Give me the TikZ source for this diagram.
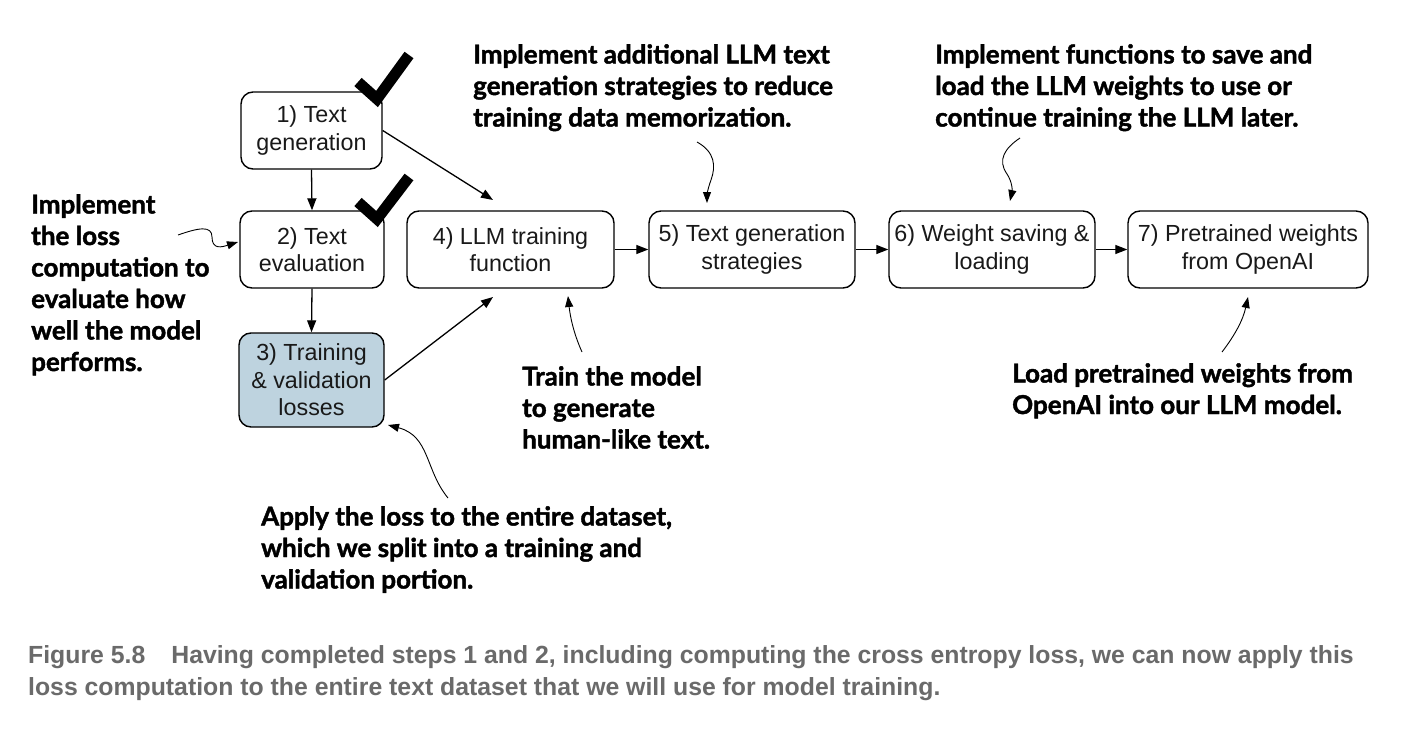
\documentclass[tikz,border=0pt]{standalone}
\usepackage{fontspec}
\setmainfont{Liberation Sans}
\newfontfamily\annfont[BoldFeatures={FakeBold=1.6}]{Lato}
\newfontfamily\capfont{Liberation Sans}
\usetikzlibrary{arrows.meta}
\definecolor{boxblue}{HTML}{BED3DF}
\definecolor{capgray}{HTML}{6A6A6A}
\tikzset{
  stepbox/.style={draw=black, line width=1.4pt, rounded corners=12pt, fill=white,
    align=center, inner sep=0pt, minimum height=77pt,
    font=\fontsize{23.3}{27.5}\selectfont, text=black!90},
  arr/.style={line width=1.3pt, -{Triangle[length=12pt,width=9pt]}},
  sq/.style={line width=0.9pt, -{Triangle[length=11pt,width=8pt]}},
  ann/.style={anchor=north west, inner sep=0pt, align=left,
    font=\annfont\bfseries\fontsize{26}{31.5}\selectfont},
  tick/.style={line width=11pt, line cap=butt, line join=miter}
}
\begin{document}
\begin{tikzpicture}[x=1pt,y=-1pt]
\useasboundingbox[fill=white] (0,0) rectangle (1422,736);

% boxes
\node[stepbox, minimum width=141pt] (b1) at (311.5,130.5) {1) Text\\generation};
\node[stepbox, minimum width=144pt] (b2) at (312,249.5) {2) Text\\evaluation};
\node[stepbox, minimum width=145pt, minimum height=94pt, fill=boxblue] (b3) at (311.5,380) {3) Training\\\& validation\\losses};
\node[stepbox, minimum width=207pt] (b4) at (510.5,249.5) {4) LLM training\\function};
\node[stepbox, minimum width=206pt] (b5) at (752,249.5) {5) Text generation\\strategies};
\node[stepbox, minimum width=206pt] (b6) at (992,249.5) {6) Weight saving \&\\loading};
\node[stepbox, minimum width=240pt] (b7) at (1248,249.5) {7) Pretrained weights\\from OpenAI};

% check marks
\draw[tick] (358,82) -- (377,99) -- (409,55);
\draw[tick] (358,202) -- (377,219) -- (409,177);

% main connectors
\coordinate (t14) at (493,200);
\coordinate (t34) at (493,297);
\draw[arr] (b1.south) -- (b2.north);
\draw[arr] (b2.south) -- (b3.north);
\draw[arr] (b1.east) -- (t14);
\draw[arr] (b3.east) -- (t34);
\draw[arr] (b4.east) -- (b5.west);
\draw[arr] (b5.east) -- (b6.west);
\draw[arr] (b6.east) -- (b7.west);

% annotations
\node[ann] (aA) at (473,44) {Implement additional LLM text\\generation strategies to reduce\\training data memorization.};
\node[ann] (aB) at (935,44) {Implement functions to save and\\load the LLM weights to use or\\continue training the LLM later.};
\node[ann] (aC) at (31,194) {Implement\\the loss\\computation to\\evaluate how\\well the model\\performs.};
\node[ann] (aD) at (522,366) {Train the model\\to generate\\human-like text.};
\node[ann] (aE) at (1012,363) {Load pretrained weights from\\OpenAI into our LLM model.};
\node[ann] (aF) at (261,506) {Apply the loss to the entire dataset,\\which we split into a training and\\validation portion.};

% squiggly pointers
\coordinate (sA) at (697,142);
\coordinate (sB) at (1020,138);
\coordinate (sC) at (178,235);
\coordinate (sD) at (582,352);
\coordinate (sE) at (1222,352);
\coordinate (sF) at (448,498);
\draw[sq] (sA) .. controls (715,152) and (716,166) .. (711,180) .. controls (708,188) and (707,195) .. (707,203);
\draw[sq] (sB) .. controls (1005,148) and (997,160) .. (1007,174) .. controls (1013,183) and (1012,192) .. (1010,201);
\draw[sq] (sC) .. controls (198,228) and (212,225) .. (212,237) .. controls (212,250) and (222,247) .. (238,242);
\draw[sq] (sD) .. controls (573,332) and (570,315) .. (568,296);
\draw[sq] (sE) .. controls (1235,335) and (1243,320) .. (1248,297);
\draw[sq] (sF) .. controls (425,470) and (430,436) .. (388,425);

% caption
\node[anchor=north west, inner sep=0pt, align=left, text=capgray,
  font=\capfont\bfseries\fontsize{24.8}{32}\selectfont] (cap) at (28,645)
  {Figure 5.8\hspace{26pt}Having completed steps 1 and 2, including computing the cross entropy loss, we can now apply this\\loss computation to the entire text dataset that we will use for model training.};
\end{tikzpicture}
\end{document}
